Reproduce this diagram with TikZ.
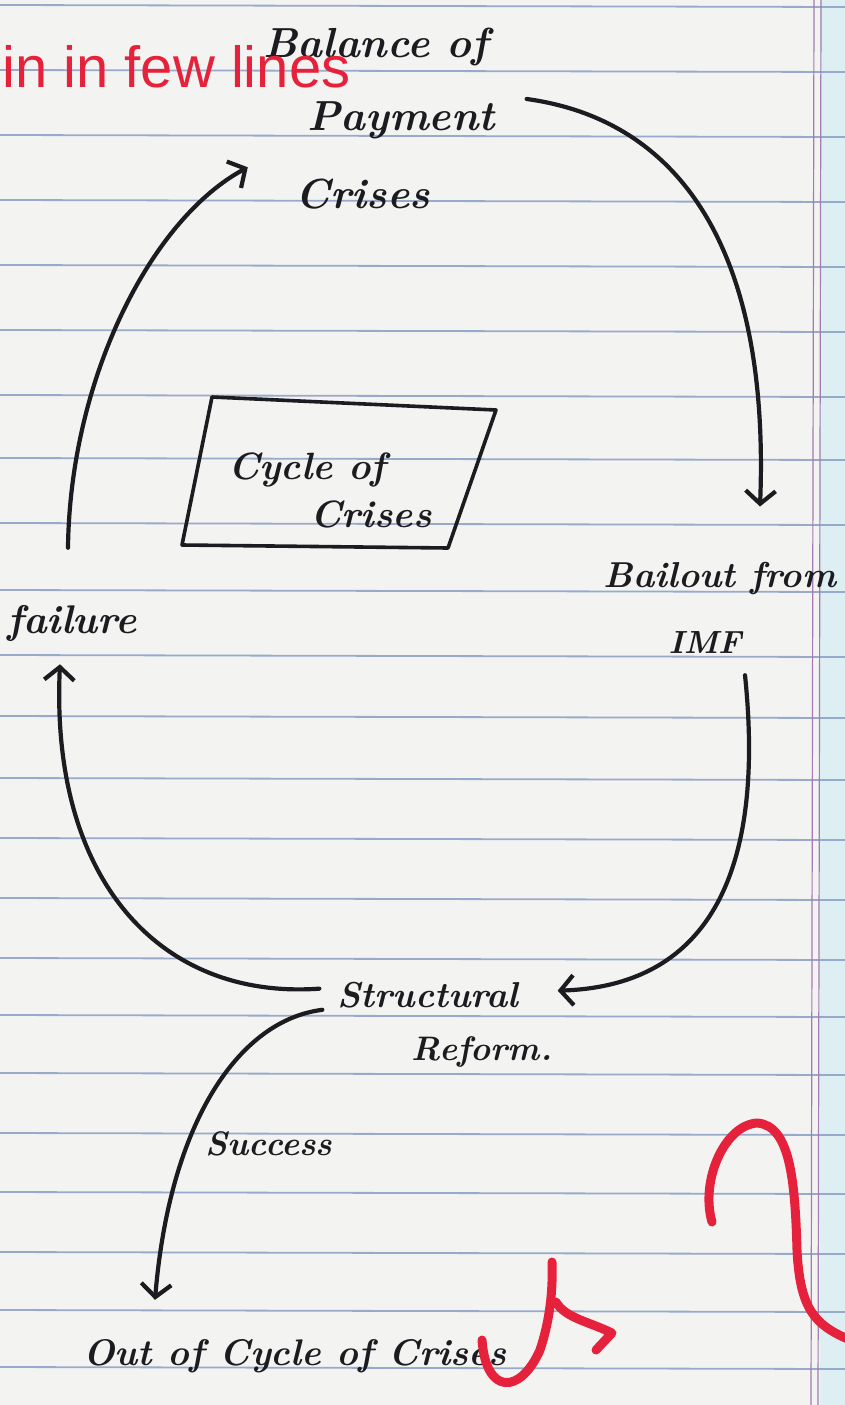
\documentclass[tikz,border=0pt]{standalone}
\usepackage{fontspec}
\newfontfamily\notefont{Liberation Sans}
\usetikzlibrary{arrows.meta}

\definecolor{ink}{HTML}{1B1B20}
\definecolor{paper}{HTML}{F3F3F1}
\definecolor{tint}{HTML}{DDEFF2}
\definecolor{ruling}{HTML}{97AACA}
\definecolor{marginline}{HTML}{A27CB2}
\definecolor{marker}{HTML}{E6213B}

\tikzset{
  hand/.style={font={\bfseries\itshape\fontsize{#1}{#1}\selectfont}, text=ink, inner sep=2pt, anchor=base},
  hand/.default=40,
  pen/.style={draw=ink, line width=4.2pt, line cap=round, line join=round},
  arrow/.style={pen, -{Straight Barb[length=13pt,width=30pt]}},
  rule/.style={draw=ruling, line width=1.8pt},
  scribble/.style={draw=marker, line width=9pt, line cap=round, line join=round},
}

\begin{document}
\begin{tikzpicture}[x=1pt,y=-1pt]

    % --------------------------------------------------------- %
    % ------------- lined paper
    % --------------------------------------------------------- %
    \useasboundingbox (0,0) rectangle (845,1405);
    \fill[paper] (0,0) rectangle (845,1405);
    \fill[tint] (820,0) rectangle (845,1405);
    \foreach \y in {5,70,135,200,265,330,395,458,523,590,655,716,778,838,898,958,1015,1073,1133,1192,1252,1310,1367}
      \draw[rule] (0,\y) -- (845,\y+2);
    \draw[marginline, line width=1.2pt] (814,0) -- (811,1405);
    \draw[marginline, line width=1.2pt] (821,0) -- (818,1405);

    % --------------------------------------------------------- %
    % ------------- nodes of the cycle
    % --------------------------------------------------------- %
    \node[hand=42] (bop1) at (376,58) {Balance of};
    \node[hand=42] (bop2) at (401,130) {Payment};
    \node[hand=42] (bop3) at (363,208) {Crises};

    \node[hand=36] (bail1) at (720,587) {Bailout from};
    \node[hand=32] (bail2) at (705,653) {IMF};

    \node[hand=36] (str1) at (428,1007) {Structural};
    \node[hand=34] (str2) at (482,1060) {Reform.};

    \node[hand=40] (fail) at (72,633) {failure};

    \node[hand=34] (succ) at (269,1155) {Success};
    \node[hand=37] (out) at (295,1365) {Out of Cycle of Crises};

    % ------------- title box
    \node[hand=38] (cyc1) at (307,479) {Cycle of};
    \node[hand=38] (cyc2) at (371,527) {Crises};
    \draw[pen, line width=3.6pt] (212,397) -- (496,410) -- (448,548) -- (182,545) -- cycle;

    % --------------------------------------------------------- %
    % ------------- arrows
    % --------------------------------------------------------- %
    \draw[arrow] ([shift={(30,0)}]bop2.north east) .. controls (680,120) and (770,250) .. ([shift={(40,-53)}]bail1.north);
    \draw[arrow] ([shift={(40,20)}]bail2.south) .. controls (760,820) and (740,985) .. ([shift={(37,-4)}]str1.east);
    \draw[arrow] ([shift={(-16,-6)}]str1.west) .. controls (160,1000) and (50,880) .. ([shift={(-12,21)}]fail.south);
    \draw[arrow] ([shift={(-4,-55)}]fail.north) .. controls (70,380) and (150,220) .. ([shift={(-46,-9)}]bop3.north west);
    \draw[arrow] ([shift={(-13,0)}]str1.south west) .. controls (240,1020) and (170,1120) .. ([shift={(-140,-37)}]out.north);

    % --------------------------------------------------------- %
    % ------------- red marks on top
    % --------------------------------------------------------- %
    \node[font={\notefont\fontsize{58}{58}\selectfont}, text=marker, inner sep=0pt, anchor=base west] (note) at (2,88) {in in few lines};
    \draw[scribble] (482,1340) .. controls (486,1395) and (520,1395) .. (540,1350) .. controls (550,1320) and (553,1290) .. (552,1262);
    \draw[scribble] (556,1302) .. controls (565,1318) and (590,1322) .. (612,1333) -- (596,1350);
    \draw[scribble] (712,1222) .. controls (700,1180) and (725,1125) .. (757,1123) .. controls (790,1125) and (795,1180) .. (797,1250) .. controls (800,1310) and (815,1325) .. (850,1340);

\end{tikzpicture}
\end{document}
